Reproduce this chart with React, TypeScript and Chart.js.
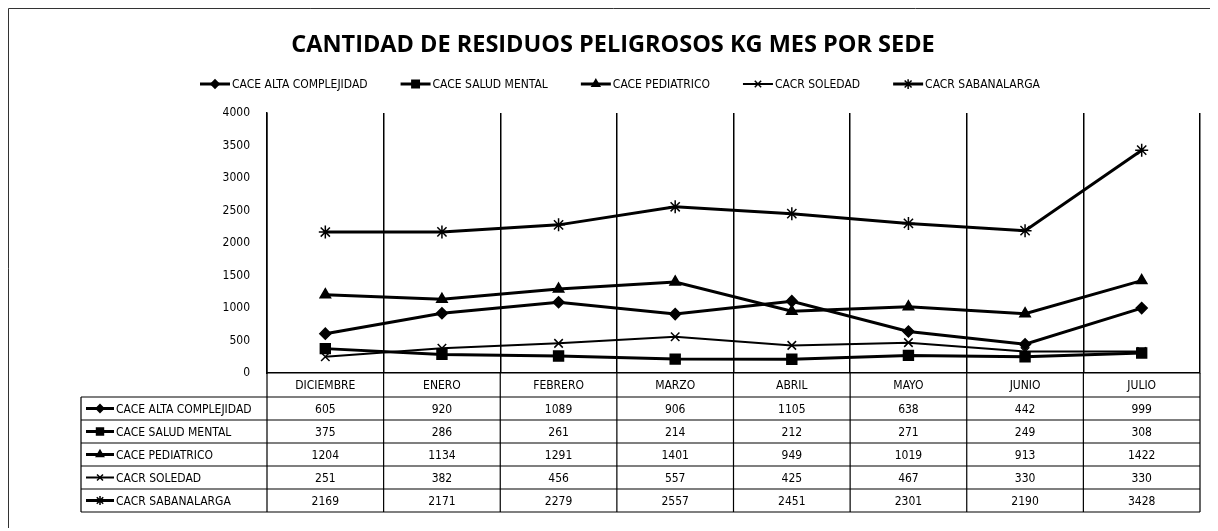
import React, { useEffect, useRef } from 'react';
import { Chart, registerables } from 'chart.js';
import { drawPoint } from 'chart.js/helpers';

Chart.register(...registerables);

const TITLE = 'CANTIDAD DE RESIDUOS PELIGROSOS KG MES POR SEDE';
const months = ['DICIEMBRE', 'ENERO', 'FEBRERO', 'MARZO', 'ABRIL', 'MAYO', 'JUNIO', 'JULIO'];
const seriesNames = ['CACE ALTA COMPLEJIDAD', 'CACE SALUD MENTAL', 'CACE PEDIATRICO', 'CACR SOLEDAD', 'CACR SABANALARGA'];
const altaComplejidad = [605, 920, 1089, 906, 1105, 638, 442, 999];
const saludMental = [375, 286, 261, 214, 212, 271, 249, 308];
const pediatrico = [1204, 1134, 1291, 1401, 949, 1019, 913, 1422];
const soledad = [251, 382, 456, 557, 425, 467, 330, 330];
const sabanalarga = [2169, 2171, 2279, 2557, 2451, 2301, 2190, 3428];
const seriesValues = [altaComplejidad, saludMental, pediatrico, soledad, sabanalarga];
const pointStyles = ['rectRot', 'rect', 'triangle', 'crossRot', 'star'];
const pointRadii = [5.5, 7, 6, 6, 6.5];
const lineWidths = [3, 3, 3, 2, 3];

const FONT = '"Liberation Sans Narrow", "DejaVu Sans Condensed", "Noto Sans", sans-serif';
const TITLE_FONT = '"Open Sans", "Noto Sans", sans-serif';

const W = 1210;
const H = 520;

const drawMarker = (ctx: CanvasRenderingContext2D, i: number, cx: number, cy: number, len: number, scale = 0.8) => {
  ctx.save();
  ctx.strokeStyle = '#000';
  ctx.fillStyle = '#000';
  ctx.lineWidth = lineWidths[i];
  ctx.beginPath();
  ctx.moveTo(cx - len / 2, cy);
  ctx.lineTo(cx + len / 2, cy);
  ctx.stroke();
  ctx.lineWidth = 1.5;
  drawPoint(ctx, { pointStyle: pointStyles[i], radius: pointRadii[i] * scale, rotation: 0, borderWidth: 1.5 } as any, cx, cy);
  ctx.restore();
};

const tablePlugin = {
  id: 'tableAndLegend',
  afterDraw(chart: any) {
    const { ctx, chartArea, scales } = chart;
    const x = scales.x;
    ctx.save();
    // frame
    ctx.strokeStyle = '#333';
    ctx.lineWidth = 1;
    ctx.beginPath();
    ctx.moveTo(0.5, H);
    ctx.lineTo(0.5, 0.5);
    ctx.lineTo(W, 0.5);
    ctx.stroke();

    // title
    ctx.fillStyle = '#000';
    ctx.font = `bold 23.5px ${TITLE_FONT}`;
    ctx.textAlign = 'center';
    ctx.textBaseline = 'middle';
    ctx.fillText(TITLE, 605, 37);

    // top legend
    ctx.font = `12px ${FONT}`;
    ctx.textAlign = 'left';
    let lx = 192;
    const ly = 76;
    seriesNames.forEach((name, i) => {
      drawMarker(ctx, i, lx + 15, ly, 30, 0.75);
      ctx.fillStyle = '#000';
      ctx.fillText(name, lx + 32, ly + 1);
      lx += 32 + ctx.measureText(name).width + 33;
    });

    // data table
    const n = months.length;
    const left = chartArea.left;
    const right = chartArea.right;
    const headerTop = chartArea.bottom;
    const headerBottom = headerTop + 24;
    const rowH = 23;
    const tableBottom = headerBottom + rowH * seriesNames.length;
    const legLeft = 73;
    const centers = months.map((_, i) => x.getPixelForValue(i));
    const bounds = [left];
    for (let i = 0; i < n - 1; i++) bounds.push((centers[i] + centers[i + 1]) / 2);
    bounds.push(right);

    ctx.strokeStyle = '#000';
    ctx.lineWidth = 1.2;
    ctx.beginPath();
    bounds.forEach((b) => {
      ctx.moveTo(b, headerTop);
      ctx.lineTo(b, tableBottom);
    });
    ctx.moveTo(legLeft, headerBottom);
    ctx.lineTo(legLeft, tableBottom);
    for (let r = 0; r <= seriesNames.length; r++) {
      const yy = headerBottom + r * rowH;
      ctx.moveTo(legLeft, yy);
      ctx.lineTo(right, yy);
    }
    ctx.stroke();

    ctx.font = `12px ${FONT}`;
    ctx.textBaseline = 'middle';
    seriesNames.forEach((name, r) => {
      const cy = headerBottom + r * rowH + rowH / 2;
      drawMarker(ctx, r, legLeft + 19, cy, 28, 0.7);
      ctx.fillStyle = '#000';
      ctx.textAlign = 'left';
      ctx.fillText(name, legLeft + 35, cy + 1);
      ctx.textAlign = 'center';
      seriesValues[r].forEach((v, i) => {
        ctx.fillText(String(v), centers[i], cy + 1);
      });
    });
    ctx.restore();
  },
};

export default function App() {
  const ref = useRef<HTMLCanvasElement | null>(null);
  useEffect(() => {
    if (!ref.current) return;
    const chart = new Chart(ref.current, {
      type: 'line',
      data: {
        labels: months,
        datasets: seriesNames.map((name, i) => ({
          label: name,
          data: seriesValues[i],
          borderColor: '#000',
          backgroundColor: '#000',
          borderWidth: lineWidths[i],
          pointStyle: pointStyles[i] as any,
          pointRadius: pointRadii[i],
          pointBorderWidth: 1.5,
          pointBorderColor: '#000',
          pointBackgroundColor: '#000',
          tension: 0,
          fill: false,
        })),
      },
      options: {
        animation: false,
        responsive: true,
        maintainAspectRatio: false,
        layout: { padding: { left: 0, right: 18, top: 105, bottom: 131 } },
        plugins: {
          legend: { display: false },
          title: { display: false },
          tooltip: { enabled: false },
        },
        scales: {
          x: {
            offset: true,
            grid: { offset: true, color: '#000', lineWidth: 1.5, drawTicks: false },
            border: { display: true, color: '#000', width: 1.5 },
            ticks: { color: '#000', font: { family: FONT, size: 12 }, padding: 6, maxRotation: 0 },
            afterFit: (s: any) => { s.height = 24; },
          },
          y: {
            min: 0,
            max: 4000,
            ticks: {
              stepSize: 500,
              color: '#000',
              font: { family: FONT, size: 12 },
              padding: 17,
              callback: (v: any) => String(v),
            },
            grid: { display: false, drawTicks: false },
            border: { display: true, color: '#000', width: 1.5 },
            afterFit: (s: any) => { s.width = 259; },
          },
        },
      },
      plugins: [tablePlugin],
    });
    return () => chart.destroy();
  }, []);
  return (
    <div style={{ position: 'relative', width: W, height: H }}>
      <canvas ref={ref} />
    </div>
  );
}
